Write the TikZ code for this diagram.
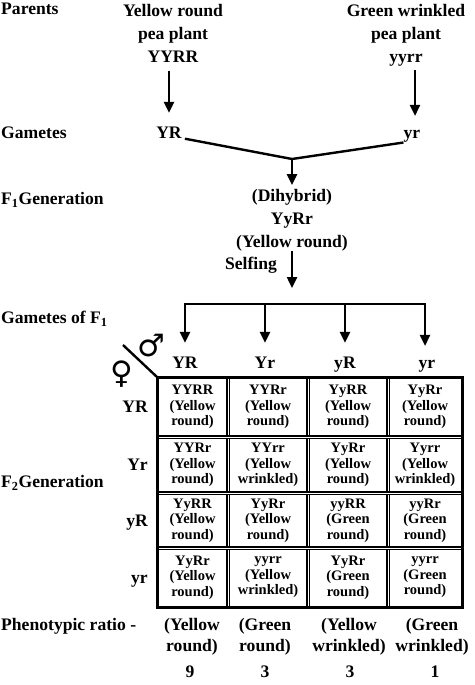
\documentclass[tikz,border=0pt]{standalone}
\usepackage{fontspec}
\setmainfont{Liberation Serif}
\newfontfamily\symfont{DejaVu Sans}
\usetikzlibrary{arrows.meta}

\tikzset{
  lbl/.style={font=\fontsize{17.6}{23}\selectfont\bfseries,inner sep=0pt,align=center,anchor=base},
  cell/.style={font=\fontsize{14.5}{15.5}\selectfont\bfseries,inner sep=0pt,align=center},
  ratio/.style={lbl,font=\fontsize{17.6}{21}\selectfont\bfseries},
  sex/.style={font=\symfont\fontsize{31}{31}\selectfont,inner sep=0pt},
  arr/.style={line width=2.4pt,-{Triangle[width=10pt,length=11pt]}},
  grid/.style={line width=1.1pt,double,double distance=0.9pt}
}

\begin{document}
\begin{tikzpicture}[x=1pt,y=-1pt]
\useasboundingbox (0,0) rectangle (474,685);
% row titles
\node (tPar) [lbl,anchor=base west] at (1,15) {Parents};
\node (tGam) [lbl,anchor=base west] at (1,138.5) {Gametes};
\node (tF1) [lbl,anchor=base west] at (1,204.5) {F\textsubscript{1}Generation};
\node (tGF1) [lbl,anchor=base west] at (1,323.5) {Gametes of F\textsubscript{1}};
\node (tF2) [lbl,anchor=base west] at (1,487.5) {F\textsubscript{2}Generation};
\node (tPhen) [lbl,anchor=base west] at (1,630.5) {Phenotypic ratio -};

\node (par1) [lbl] at (173,62.5) {Yellow round\\pea plant\\YYRR};
\node (par2) [lbl] at (406,62.5) {Green wrinkled\\pea plant\\yyrr};
\node (gam1) [lbl] at (169,138.5) {YR};
\node (gam2) [lbl] at (412,138.5) {yr};
\coordinate (join) at (292,159);
\node (f1) [lbl] at (292,247.5) {(Dihybrid)\\YyRr\\(Yellow round)};
\node (self) [lbl] at (251,269.5) {Selfing};
\coordinate (selfEnd) at (292,288);

\draw [arr,shorten <=8pt,shorten >=14pt] (par1.south -| gam1) -- (gam1);
\draw [arr,shorten <=4pt,shorten >=14pt] ([xshift=3pt]par2.south -| gam2) -- ([xshift=3pt]gam2.north);
\draw [line width=2.4pt] ([xshift=3pt]gam1.south east) -- (join) -- (gam2.south west);
\draw [arr,shorten >=4pt] (join) -- (f1.north);
\draw [arr] (f1.south) -- (selfEnd);

% gametes of F1
\node (h1) [lbl] at (185,368.5) {YR};
\node (h2) [lbl] at (265,368.5) {Yr};
\node (h3) [lbl] at (345,368.5) {yR};
\node (h4) [lbl] at (427,368.5) {yr};
\coordinate (b1) at (185,304);
\coordinate (b2) at (265,304);
\coordinate (b3) at (345,304);
\coordinate (b4) at (425,304);
\draw [line width=2.4pt] ([xshift=-1.2pt]b1) -- ([xshift=1.2pt]b4);
\draw [arr,shorten >=14pt] (b1) -- (b1 |- h1.north);
\draw [arr,shorten >=14pt] (b2) -- (b2 |- h2.north);
\draw [arr,shorten >=14pt] (b3) -- (b3 |- h3.north);
\draw [arr,shorten >=14pt] (b4) -- (b4 |- h4.north);

\coordinate (corner) at (157,377);
\draw [line width=2.4pt] (123,345) -- (corner);
\node (male) [sex] at (151,346) {♂};
\node (female) [sex] at (122,374) {♀};

\node (r1) [lbl,anchor=base east] at (148,412.5) {YR};
\node (r2) [lbl,anchor=base east] at (148,470.5) {Yr};
\node (r3) [lbl,anchor=base east] at (148,526.5) {yR};
\node (r4) [lbl,anchor=base east] at (148,583.5) {yr};

% checkerboard
\draw [grid] (228,377) -- (228,607);
\draw [grid] (308,377) -- (308,607);
\draw [grid] (388,377) -- (388,607);
\draw [grid] (157,437) -- (462,437);
\draw [grid] (157,493) -- (462,493);
\draw [grid] (157,548) -- (462,548);
\draw [line width=3pt] (corner) rectangle (462,607);

\node (c11) [cell] at (192.5,407) {YYRR\\(Yellow\\round)};
\node (c12) [cell] at (268,407) {YYRr\\(Yellow\\round)};
\node (c13) [cell] at (348,407) {YyRR\\(Yellow\\round)};
\node (c14) [cell] at (425,407) {YyRr\\(Yellow\\round)};
\node (c21) [cell] at (192.5,465) {YYRr\\(Yellow\\round)};
\node (c22) [cell] at (268,465) {YYrr\\(Yellow\\wrinkled)};
\node (c23) [cell] at (348,465) {YyRr\\(Yellow\\round)};
\node (c24) [cell] at (425,465) {Yyrr\\(Yellow\\wrinkled)};
\node (c31) [cell] at (192.5,520.5) {YyRR\\(Yellow\\round)};
\node (c32) [cell] at (268,520.5) {YyRr\\(Yellow\\round)};
\node (c33) [cell] at (348,520.5) {yyRR\\(Green\\round)};
\node (c34) [cell] at (425,520.5) {yyRr\\(Green\\round)};
\node (c41) [cell] at (192.5,577.5) {YyRr\\(Yellow\\round)};
\node (c42) [cell] at (268,577.5) {yyrr\\(Yellow\\wrinkled)};
\node (c43) [cell] at (348,577.5) {YyRr\\(Green\\round)};
\node (c44) [cell] at (425,577.5) {yyrr\\(Green\\round)};

% ratio
\node (p1) [ratio] at (192,651.5) {(Yellow\\round)};
\node (p2) [ratio] at (265,651.5) {(Green\\round)};
\node (p3) [ratio] at (349,651.5) {(Yellow\\wrinkled)};
\node (p4) [ratio] at (432,651.5) {(Green\\wrinkled)};
\node (n1) [lbl] at (190,677.5) {9};
\node (n2) [lbl] at (265,677.5) {3};
\node (n3) [lbl] at (350,677.5) {3};
\node (n4) [lbl] at (435,677.5) {1};
\end{tikzpicture}
\end{document}
